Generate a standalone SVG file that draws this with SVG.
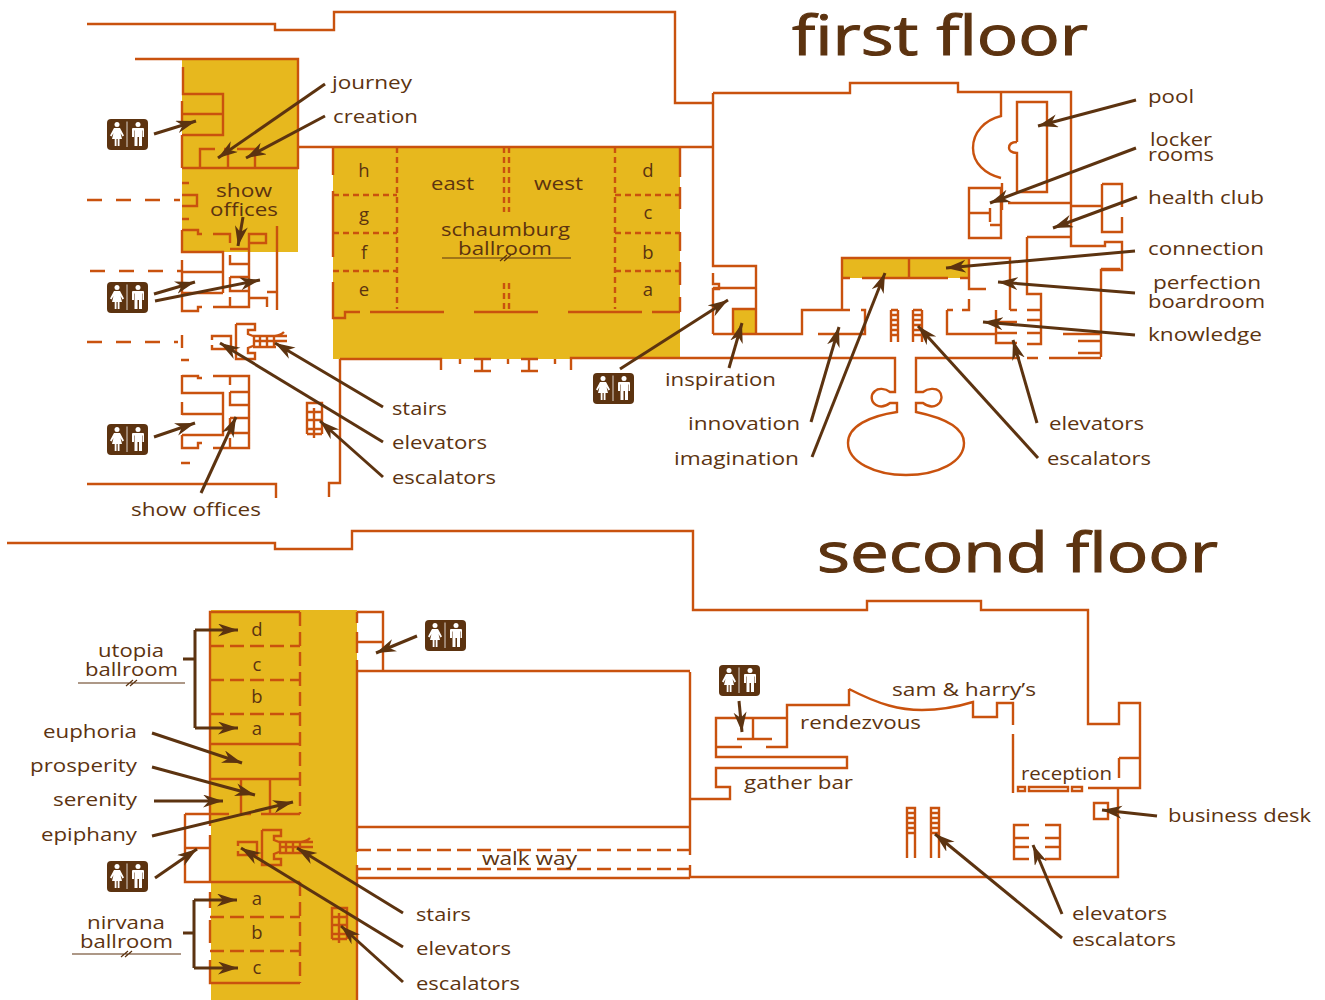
<svg xmlns="http://www.w3.org/2000/svg" xmlns:xlink="http://www.w3.org/1999/xlink" width="1325" height="1000" viewBox="0 0 1325 1000">
<style>
.g{fill:#e7b81e;stroke:none}
.w{fill:none;stroke:#c9520e;stroke-width:2.4}
.d{fill:none;stroke:#c9520e;stroke-width:2.4;stroke-dasharray:6 4}
.l{fill:none;stroke:#c9520e;stroke-width:2.4;stroke-dasharray:15 14}
.t{fill:#5c3310;font-family:"Open Sans","Liberation Sans",sans-serif;font-size:18.5px}
.m{text-anchor:middle}
.h{font-size:54px;stroke:#5c3310;stroke-width:1}
.a{fill:none;stroke:#5c3310;stroke-width:3;marker-end:url(#ah)}
.b{fill:none;stroke:#5c3310;stroke-width:3}
.u{fill:none;stroke:#5c3310;stroke-width:1.2}
</style>
<defs>
<marker id="ah" markerUnits="userSpaceOnUse" markerWidth="22" markerHeight="14" refX="20" refY="6.5" orient="auto"><path d="M0,0L20,6.5L0,13L6,6.5Z" fill="#5c3310"/></marker>
<g id="rr">
<rect width="41" height="31" rx="4" fill="#5c3310"/>
<path d="M20,2.5V28" stroke="#fff" stroke-width="0.8"/>
<circle cx="10" cy="5.5" r="2.5" fill="#fff"/><circle cx="31" cy="5.5" r="2.5" fill="#fff"/>
<path fill="#fff" d="M7,9H13L17,16.5L15.5,17.5L13.5,14L15,20H12.5V27H10.7V20H9.5V27H7.7V20H5L6.5,14L4.5,17.5L3,16.5Z"/>
<path fill="#fff" d="M26,9H36Q37,9 37,10V18H35.5V11.5H35V27H32V18H30.5V27H27.5V11.5H27V18H25V10Q25,9 26,9Z"/>
</g>
<g id="st">
<path class="w" d="M212,340V336H231V349H212V345M236,324H255V330H248V334L253,336M236,324V359H255V353H248V348L253,346M253,336H287M254,341H287M253,347H276M254,336V347M260,336V347M267,336V347M274,336V347M275,336Q281,335 284,332"/>
</g>
<g id="es">
<path class="w" d="M307,434V403H322V434M314,408V438M307,412H322M307,420H322M307,429H322M307,434H322"/>
</g>
</defs>

<g id="first-floor-fill">
<rect class="g" x="182" y="59" width="116" height="193"/>
<rect class="g" x="333" y="147" width="347" height="212"/>
<rect class="g" x="733" y="309" width="23" height="25"/>
<rect class="g" x="842" y="258" width="127" height="20"/>
</g>
<g id="first-floor-walls">
<path class="w" d="M87,24H275V30H334V12H675V103H713M713,93H850V83H958V92H1071V246H1105V242H1122V270H1101V357M298,147H713"/>
<path class="w" d="M135,59H298V168H182M183,67V94H223V135H182M182,114H223M182,101V125M182,135V168M200,168V149H215M224,149H228M237,149H255V168M228,147V168M182,195H197V206H182M182,183H189M182,219H189"/>
<path class="l" d="M87,200H180M90,271H182M87,342H178"/>
<path class="w" d="M182,230H198V234H202M213,234H230V243M182,230V252H223V293M182,272H223M182,293H223M182,260V311H198V307H202M213,307H249V234H266V243H249M230,249H249M230,255V264H249M230,277H249V291H230V277M230,297V307M249,298H267V307M267,292H277M277,226V310M182,335V348M181,360H189"/>
<path class="w" d="M182,375V393H223V435H182M182,376H198V378H202M213,376H249V448H213M230,376V385M230,392H249M230,392V405H249M230,418H249V433H230M230,418V428M230,438V448M182,414H223M182,402V415M182,435V448H198V443H202M181,463H190"/>
<path class="w" d="M87,484H276V498M340,359V483H329V497M340,359H441V370M460,359V364M508,359V364M555,359V364M482,359V371M474,359H491M474,371H491M529,359V371M521,359H538M521,371H538M571,370V358H895V392H890C885,388 878,388 875,391C870,395 871,402 876,405C881,408 886,406 890,403H897V412C870,416 848,426 848,443C848,462 875,475 906,475C938,475 964,462 964,443C964,426 940,417 916,412V403H923C927,406 932,408 937,405C942,402 943,395 939,391C936,388 928,388 923,392H916V358H1020M1027,358H1038M1049,358H1101M1078,353H1101"/>
<path class="w" d="M333,147V175M333,191V257M333,282V318H345V312H360M370,312H444M474,312H538M568,312H642M652,312H680M680,147V177M680,187V209M680,232V251M680,262V285M680,297V312"/>
<path class="d" d="M397,147V309M615,147V309M333,195H397M333,233H397M333,271H397M615,195H680M615,233H680M615,271H680M504,147V212M509,147V212M504,283V312M509,283V312"/>
<path class="u" d="M442,258H571M500,261L507,255M504,261L511,255"/>
<path class="w" d="M713,93V266H756V334H713M713,273V284H719V289H713V334M713,288H756M733,309H756V334H733ZM756,334H802V310H850M861,310H865V334H818M842,310V258H1010V310M842,278H850M862,278H948M960,278H969M909,258V278M969,258V289H986M969,299V310H962M947,310H953M947,310V334H996M996,310V343H1017M996,322H1017M996,333H1017M1010,310H1017M1027,237H1071M1027,237V294H1041V344H1027M1027,310H1041M1027,320H1041M1027,333H1041M1063,334H1100M1078,341H1100M1101,269H1120"/>
<path class="w" d="M891,342V310M898,342V310M891,310H898M891,315H898M891,320H898M891,325H898M891,330H898M891,335H898M913,342V310M922,342V310M913,310H922M913,315H922M913,320H922M913,325H922M913,330H922M913,335H922"/>
<path class="w" d="M1001,92V116C985,120 973,132 973,148C973,163 985,174 1001,178M1017,142V102H1047V192H1017V153C1011,153 1009,150 1009,148C1009,145 1011,142 1017,142M969,188H1001V238H969ZM969,213H990M990,208V222M990,225H1002M1002,183V210M1008,203H1071M1071,206H1102M1102,184H1122V207M1122,217V232H1102V184"/>
</g>
<use xlink:href="#st" href="#st"/>
<use xlink:href="#es" href="#es"/>

<g id="second-floor-fill"><rect class="g" x="211" y="610" width="146" height="390"/></g>
<g id="second-floor-walls">
<path class="w" d="M7,543H275V549H352V531H693V610H867V601H981V610H1088V724H1119V703H1140V788H1088M1119,758H1140M1119,758V778M1118,788V877H690M690,672V855M690,865V878"/>
<path class="w" d="M357,612V623M357,632V653M357,660V852M357,865V1000M357,612H383V671H357M357,642H383M357,671H690M357,827H690M357,878H690"/>
<path class="d" d="M357,850H690M357,869H690M300,612V814M300,882V983M210,646H300M210,680H300M210,714H300M210,917H300M210,951H300" style="stroke-dasharray:14 6"/>
<path class="w" d="M300,612H210V826M210,835V882M210,744H300M210,779H300M241,779V814M270,779V814M210,814H229M241,814H251M261,814H300M185,814H210M185,814V882H300M185,848H210M210,892V908M210,920V943M210,960V983H300"/>
<path class="w" d="M849,689C880,705 900,710 922,710C945,710 960,706 973,702V717H997V703H1013V725M1013,734V793M849,689V705H787V747H766M742,747H716V718H787M716,747V757H847V768H716V787H730V799H690M753,718V739M737,739H772M1018,787H1025V791H1018ZM1029,787H1068V791H1029ZM1072,787H1082V791H1072ZM1094,803H1108V819H1094Z"/>
<path class="w" d="M907,858V808H915V858M907,808H915M907,813H915M907,818H915M907,823H915M907,828H915M907,833H915M931,858V808H939V858M931,808H939M931,813H939M931,818H939M931,823H939M931,828H939M931,833H939M1029,825H1014V859H1029M1014,838H1029M1014,847H1029M1045,825H1060V859H1045M1045,838H1060M1045,847H1060"/>
</g>
<use xlink:href="#st" href="#st" transform="translate(26,506)"/>
<use xlink:href="#es" href="#es" transform="translate(25,505)"/>

<g id="restrooms">
<use href="#rr" xlink:href="#rr" x="107" y="119"/>
<use href="#rr" xlink:href="#rr" x="107" y="282"/>
<use href="#rr" xlink:href="#rr" x="107" y="424"/>
<use href="#rr" xlink:href="#rr" x="593" y="373"/>
<use href="#rr" xlink:href="#rr" x="425" y="620"/>
<use href="#rr" xlink:href="#rr" x="719" y="665"/>
<use href="#rr" xlink:href="#rr" x="107" y="861"/>
</g>

<g id="connectors">
<path class="a" d="M154,134L196,121"/><path class="a" d="M325,84L218,158"/><path class="a" d="M325,116L246,158"/><path class="a" d="M243,217L238,246"/>
<path class="a" d="M154,294L195,282"/><path class="a" d="M155,301L260,280"/><path class="a" d="M383,407L275,343"/><path class="a" d="M383,442L220,343"/><path class="a" d="M383,477L320,421"/><path class="a" d="M154,437L195,423"/><path class="a" d="M201,493L236,417"/>
<path class="a" d="M620,369L728,300"/><path class="a" d="M729,368L742,323"/><path class="a" d="M811,422L839,327"/><path class="a" d="M812,457L885,273"/><path class="a" d="M1038,458L918,326"/><path class="a" d="M1037,423L1013,340"/><path class="a" d="M1135,335L983,322"/><path class="a" d="M1135,293L998,282"/><path class="a" d="M1135,251L946,268"/><path class="a" d="M1137,197L1053,228"/><path class="a" d="M1136,148L990,203"/><path class="a" d="M1136,100L1038,126"/>
<path class="a" d="M417,636L376,653"/><path class="b" d="M183,659H195M195,630V728"/><path class="a" d="M195,630H238"/><path class="a" d="M195,728H238"/>
<path class="a" d="M152,733L242,763"/><path class="a" d="M152,767L255,795"/><path class="a" d="M154,801H223"/><path class="a" d="M152,836L293,802"/><path class="a" d="M155,878L197,849"/>
<path class="b" d="M183,933H194M194,900V968"/><path class="a" d="M194,900H237"/><path class="a" d="M194,968H238"/>
<path class="a" d="M403,913L297,848"/><path class="a" d="M403,947L241,848"/><path class="a" d="M403,982L341,926"/><path class="a" d="M739,701L742,732"/><path class="a" d="M1157,816L1102,810"/><path class="a" d="M1062,914L1033,845"/><path class="a" d="M1062,938L935,834"/>
</g>

<g id="label-rules"><path class="u" d="M78,683H185M126,686L133,680M130,686L137,680M72,954H181M121,957L128,951M125,957L132,951"/></g>
<g id="labels" transform="translate(0,0.7)">
<text class="t h" x="792" y="54.3" textLength="296" lengthAdjust="spacingAndGlyphs">first floor</text>
<text class="t h" x="817" y="571.3" textLength="401" lengthAdjust="spacingAndGlyphs">second floor</text>
<text class="t" x="332" y="88" textLength="80" lengthAdjust="spacingAndGlyphs">journey</text>
<text class="t" x="333" y="122" textLength="85" lengthAdjust="spacingAndGlyphs">creation</text>
<text class="t" x="216" y="196" textLength="56" lengthAdjust="spacingAndGlyphs">show</text>
<text class="t" x="210" y="215" textLength="68" lengthAdjust="spacingAndGlyphs">offices</text>
<text class="t m" x="364" y="176">h</text><text class="t m" x="364" y="220">g</text><text class="t m" x="364" y="258">f</text><text class="t m" x="364" y="295">e</text>
<text class="t" x="431" y="189" textLength="43" lengthAdjust="spacingAndGlyphs">east</text>
<text class="t" x="534" y="189" textLength="49" lengthAdjust="spacingAndGlyphs">west</text>
<text class="t" x="441" y="235" textLength="129" lengthAdjust="spacingAndGlyphs">schaumburg</text>
<text class="t" x="458" y="254" textLength="94" lengthAdjust="spacingAndGlyphs">ballroom</text>
<text class="t m" x="648" y="176">d</text><text class="t m" x="648" y="218">c</text><text class="t m" x="648" y="258">b</text><text class="t m" x="648" y="295">a</text>
<text class="t" x="1148" y="102" textLength="46" lengthAdjust="spacingAndGlyphs">pool</text>
<text class="t" x="1150" y="145" textLength="62" lengthAdjust="spacingAndGlyphs">locker</text>
<text class="t" x="1148" y="160" textLength="66" lengthAdjust="spacingAndGlyphs">rooms</text>
<text class="t" x="1148" y="203" textLength="116" lengthAdjust="spacingAndGlyphs">health club</text>
<text class="t" x="1148" y="254" textLength="116" lengthAdjust="spacingAndGlyphs">connection</text>
<text class="t" x="1153" y="288" textLength="108" lengthAdjust="spacingAndGlyphs">perfection</text>
<text class="t" x="1148" y="307" textLength="117" lengthAdjust="spacingAndGlyphs">boardroom</text>
<text class="t" x="1148" y="340" textLength="114" lengthAdjust="spacingAndGlyphs">knowledge</text>
<text class="t" x="665" y="385" textLength="111" lengthAdjust="spacingAndGlyphs">inspiration</text>
<text class="t" x="688" y="429" textLength="112" lengthAdjust="spacingAndGlyphs">innovation</text>
<text class="t" x="674" y="464" textLength="125" lengthAdjust="spacingAndGlyphs">imagination</text>
<text class="t" x="1049" y="429" textLength="95" lengthAdjust="spacingAndGlyphs">elevators</text>
<text class="t" x="1047" y="464" textLength="104" lengthAdjust="spacingAndGlyphs">escalators</text>
<text class="t" x="392" y="414" textLength="55" lengthAdjust="spacingAndGlyphs">stairs</text>
<text class="t" x="392" y="448" textLength="95" lengthAdjust="spacingAndGlyphs">elevators</text>
<text class="t" x="392" y="483" textLength="104" lengthAdjust="spacingAndGlyphs">escalators</text>
<text class="t" x="131" y="515" textLength="130" lengthAdjust="spacingAndGlyphs">show offices</text>
<text class="t" x="98" y="656" textLength="66" lengthAdjust="spacingAndGlyphs">utopia</text>
<text class="t" x="85" y="675" textLength="93" lengthAdjust="spacingAndGlyphs">ballroom</text>
<text class="t m" x="257" y="635">d</text><text class="t m" x="257" y="670">c</text><text class="t m" x="257" y="702">b</text><text class="t m" x="257" y="734">a</text>
<text class="t" x="43" y="737" textLength="94" lengthAdjust="spacingAndGlyphs">euphoria</text>
<text class="t" x="30" y="771" textLength="107" lengthAdjust="spacingAndGlyphs">prosperity</text>
<text class="t" x="53" y="805" textLength="84" lengthAdjust="spacingAndGlyphs">serenity</text>
<text class="t" x="41" y="840" textLength="96" lengthAdjust="spacingAndGlyphs">epiphany</text>
<text class="t" x="87" y="928" textLength="78" lengthAdjust="spacingAndGlyphs">nirvana</text>
<text class="t" x="80" y="947" textLength="93" lengthAdjust="spacingAndGlyphs">ballroom</text>
<text class="t m" x="257" y="904">a</text><text class="t m" x="257" y="938">b</text><text class="t m" x="257" y="973">c</text>
<text class="t" x="416" y="920" textLength="55" lengthAdjust="spacingAndGlyphs">stairs</text>
<text class="t" x="416" y="954" textLength="95" lengthAdjust="spacingAndGlyphs">elevators</text>
<text class="t" x="416" y="989" textLength="104" lengthAdjust="spacingAndGlyphs">escalators</text>
<text class="t" x="892" y="695" textLength="144" lengthAdjust="spacingAndGlyphs">sam &amp; harry’s</text>
<text class="t" x="800" y="728" textLength="121" lengthAdjust="spacingAndGlyphs">rendezvous</text>
<text class="t" x="744" y="788" textLength="109" lengthAdjust="spacingAndGlyphs">gather bar</text>
<text class="t" x="1021" y="779" textLength="91" lengthAdjust="spacingAndGlyphs">reception</text>
<text class="t" x="1168" y="821" textLength="143" lengthAdjust="spacingAndGlyphs">business desk</text>
<text class="t" x="1072" y="919" textLength="95" lengthAdjust="spacingAndGlyphs">elevators</text>
<text class="t" x="1072" y="945" textLength="104" lengthAdjust="spacingAndGlyphs">escalators</text>
<text class="t" x="482" y="864" textLength="95" lengthAdjust="spacingAndGlyphs">walk way</text>
</g>
</svg>
